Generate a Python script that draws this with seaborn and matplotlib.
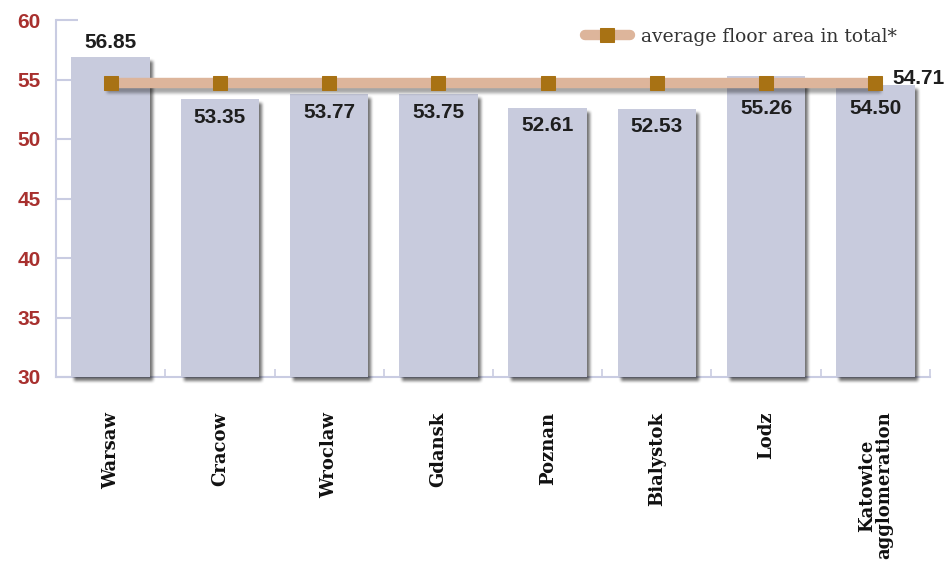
import numpy as np
import pandas as pd
import matplotlib
matplotlib.use("Agg")
import matplotlib.pyplot as plt
from matplotlib.patches import Rectangle
from matplotlib.ticker import FixedLocator
import seaborn as sns

# Average floor area of dwellings by city (m2)
cities = ["Warsaw", "Cracow", "Wroclaw", "Gdansk", "Poznan", "Bialystok", "Lodz",
          "Katowice\nagglomeration"]
floor_area = [56.85, 53.35, 53.77, 53.75, 52.61, 52.53, 55.26, 54.50]
avg_total = [54.71, 54.71, 54.71, 54.71, 54.71, 54.71, 54.71, 54.71]
avg_label = "average floor area in total*"
y_ticks = [30, 35, 40, 45, 50, 55, 60]

BAR = "#c8cbdd"
AXIS = "#c9cce2"
LINE = "#ddb59b"
MARK = "#a87214"
TICKRED = "#a8302e"
VALUE = "#1e1e1e"


# --- blurred drop shadow via agg filters -------------------------------------
def smooth1d(x, window_len):
    s = np.r_[2 * x[0] - x[window_len:1:-1], x, 2 * x[-1] - x[-1:-window_len:-1]]
    w = np.hanning(window_len)
    y = np.convolve(w / w.sum(), s, mode="same")
    return y[window_len - 1:-window_len + 1]


def smooth2d(a, sigma):
    window_len = max(int(sigma), 3) * 2 + 1
    a = np.apply_along_axis(smooth1d, 0, a, window_len)
    a = np.apply_along_axis(smooth1d, 1, a, window_len)
    return a


class DropShadow:
    def __init__(self, sigma, alpha, offsets, color=(0, 0, 0)):
        self.sigma = sigma
        self.alpha = alpha
        self.offsets = offsets
        self.color = color

    def __call__(self, im, dpi):
        pad = int((self.sigma * 3 + max(abs(o) for o in self.offsets)) / 72 * dpi)
        src = np.pad(im, [(pad, pad), (pad, pad), (0, 0)], "constant")
        tgt = np.empty_like(src)
        tgt[:, :, :3] = self.color
        tgt[:, :, 3] = smooth2d(src[:, :, 3] * self.alpha, self.sigma / 72 * dpi)
        ox, oy = self.offsets
        tgt = np.roll(tgt, int(ox / 72 * dpi), axis=1)
        tgt = np.roll(tgt, -int(oy / 72 * dpi), axis=0)
        return tgt, -pad, -pad


sns.set_theme(style="white")
plt.rcParams["font.family"] = ["Liberation Sans", "DejaVu Sans"]

df = pd.DataFrame({"city": cities, "area": floor_area})

fig = plt.figure(figsize=(9.44, 5.63), dpi=100)
ax = fig.add_axes([56 / 944, 1 - 377 / 563, (930 - 56) / 944, (377 - 20) / 563])
ax.set_ylim(30, 60)

sns.barplot(data=df, x="city", y="area", color=BAR, saturation=1, width=0.72, ax=ax,
            zorder=3)

# shadow copies of the bars, starting at the axis floor
ymin = ax.get_ylim()[0]
for p in list(ax.patches):
    p.set_edgecolor("none")
    sh = Rectangle((p.get_x(), ymin), p.get_width(), p.get_height() - ymin,
                   facecolor="black", edgecolor="none", zorder=2, clip_on=False)
    sh.set_agg_filter(DropShadow(sigma=3.0, alpha=0.55, offsets=(2.5, -3.5)))
    sh.set_rasterized(True)
    ax.add_patch(sh)

# average line
x_pos = np.arange(len(cities))
sns.lineplot(x=x_pos, y=avg_total, ax=ax, color=LINE, linewidth=7.5,
             marker="s", markersize=9.5, markerfacecolor=MARK, markeredgecolor=MARK,
             label=avg_label, solid_capstyle="projecting", zorder=5)
shadow_line, = ax.plot(x_pos, avg_total, color="black", linewidth=7.5,
                       solid_capstyle="projecting", zorder=4)
shadow_line.set_agg_filter(DropShadow(sigma=3.0, alpha=0.35, offsets=(1, -4)))
shadow_line.set_rasterized(True)

ax.set_xlim(-0.5, len(cities) - 0.5)

# value labels
line_px = ax.transData.transform((0, avg_total[0]))[1]
for i, v in enumerate(floor_area):
    if i == 0:
        ax.annotate(f"{v:.2f}", (i, v), xytext=(0, 4), textcoords="offset points",
                    ha="center", va="bottom", fontsize=15, fontweight="bold",
                    color=VALUE, zorder=6)
    else:
        top_px = ax.transData.transform((0, v))[1]
        center_px = min(top_px - 18, line_px - 26)
        off = (center_px - top_px) * 72 / fig.dpi
        ax.annotate(f"{v:.2f}", (i, v), xytext=(0, off), textcoords="offset points",
                    ha="center", va="center", fontsize=15, fontweight="bold",
                    color=VALUE, zorder=6)
ax.annotate(f"{avg_total[-1]:.2f}", (x_pos[-1], avg_total[-1]), xytext=(12, 3),
            textcoords="offset points", ha="left", va="center", fontsize=15,
            fontweight="bold", color=VALUE, zorder=6)

# axes styling
for s in ["top", "right"]:
    ax.spines[s].set_visible(False)
for s in ["left", "bottom"]:
    ax.spines[s].set_color(AXIS)
    ax.spines[s].set_linewidth(1.5)
    ax.spines[s].set_zorder(1)
ax.set_yticks(y_ticks)
ax.tick_params(axis="y", direction="in", length=16, width=1.5, color=AXIS, pad=11,
               labelsize=15, labelcolor=TICKRED, left=True)
for t in ax.get_yticklabels():
    t.set_fontweight("bold")

ax.set_xticks(x_pos)
ax.set_xticklabels(cities, rotation=90, fontsize=13, fontweight="bold",
                   family=["DejaVu Serif"], va="top", ha="center", multialignment="center",
                   linespacing=0.95)
ax.tick_params(axis="x", length=0, pad=25, labelcolor="#111111")
ax.xaxis.set_minor_locator(FixedLocator(np.arange(0.5, len(cities), 1.0)))
ax.tick_params(axis="x", which="minor", direction="in", length=6, width=1.2,
               color=AXIS, bottom=True)
ax.set_xlabel("")
ax.set_ylabel("")

leg = ax.legend(loc="center right", bbox_to_anchor=(906 / 944, 1 - 37 / 563),
                bbox_transform=fig.transFigure, frameon=False, handlelength=2.4,
                handletextpad=0.6, borderpad=0,
                prop={"family": "DejaVu Serif", "size": 13.5})
for t in leg.get_texts():
    t.set_color("#333333")
for h in leg.legend_handles:
    h.set_solid_capstyle("round")

fig.savefig("out.png", dpi=100, facecolor="white")
